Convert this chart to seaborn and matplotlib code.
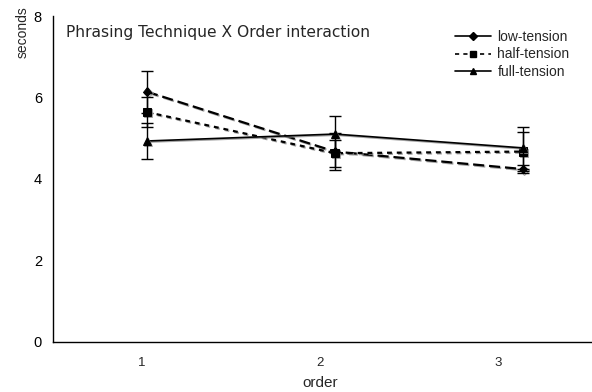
import numpy as np
import pandas as pd
import seaborn as sns
import matplotlib
matplotlib.use("Agg")
import matplotlib.pyplot as plt
import matplotlib.patheffects as pe
from matplotlib.lines import Line2D

# values
order = [1, 2, 3]
low_tension = [6.14, 4.67, 4.24]
half_tension = [5.64, 4.63, 4.67]
full_tension = [4.93, 5.10, 4.76]
low_err = [0.52, 0.45, 0.10]
half_err = [0.36, 0.33, 0.48]
full_err = [0.45, 0.44, 0.51]
series_names = ["low-tension", "half-tension", "full-tension"]
tick_labels = ["1", "2", "3"]

df = pd.DataFrame({
    "order": order * 3,
    "seconds": low_tension + half_tension + full_tension,
    "err": low_err + half_err + full_err,
    "tension": [n for n in series_names for _ in order],
})

sns.set_style("white")
plt.rcParams["font.family"] = ["Liberation Sans", "DejaVu Sans"]

fig = plt.figure(figsize=(5.92, 3.92), dpi=100)
ax = fig.add_axes([53 / 592, 50.3 / 392, 539 / 592, 325.7 / 392])

styles = {
    "low-tension": dict(marker="D", ms=4.5, ls=(0, (5, 2.2)), lw=1.6),
    "half-tension": dict(marker="s", ms=6, ls=(0, (2.2, 2.2)), lw=1.6),
    "full-tension": dict(marker="^", ms=6, ls="-", lw=1.2),
}
shadow = [pe.SimpleLineShadow(offset=(0.8, -0.8), shadow_color="0.55", alpha=0.8), pe.Normal()]

for name in series_names:
    sub = df[df.tension == name]
    st = styles[name]
    sns.lineplot(x=sub.order, y=sub.seconds, ax=ax, color="black", linewidth=st["lw"],
                 linestyle=st["ls"], marker=st["marker"], markersize=st["ms"],
                 markeredgecolor="black", legend=False, path_effects=shadow)
    ax.errorbar(sub.order, sub.seconds, yerr=sub.err, fmt="none", ecolor="black",
                elinewidth=1, capsize=4, capthick=1)

ax.set_xlim(0.5, 3.367)
ax.set_ylim(0, 8)
ax.set_yticks([0, 2, 4, 6, 8])
ax.set_xticks([0.5, 1.44, 2.39])
ax.set_xticklabels(["", "", ""])
ax.set_xticks([0.973, 1.92, 2.87], minor=True)
ax.set_xticklabels(tick_labels, minor=True)
ax.tick_params(axis="x", which="major", direction="out", length=4, width=1, color="black")
ax.tick_params(axis="x", which="minor", length=0, labelsize=9.5, pad=11)
ax.tick_params(axis="y", direction="out", length=5, width=1, color="black", labelsize=10.5, pad=3)
ax.tick_params(axis="both", colors="black")
for s in ["top", "right"]:
    ax.spines[s].set_visible(False)
for s in ["left", "bottom"]:
    ax.spines[s].set_color("black")
    ax.spines[s].set_linewidth(1)

ax.set_ylabel("")
ax.set_xlabel("")
fig.text(320 / 592, 1 - 383 / 392, "order", ha="center", va="center", fontsize=11)
fig.text(23 / 592, 1 - 32 / 392, "seconds", rotation=90, ha="center", va="center", fontsize=10)
fig.text(66 / 592, 1 - 33 / 392, "Phrasing Technique X Order interaction",
         fontsize=11.2, family=["DejaVu Sans"], va="center", ha="left")

handles = [
    Line2D([], [], color="black", lw=1.2, ls="-", marker="D", ms=4),
    Line2D([], [], color="black", lw=1.2, ls=(0, (2.5, 2.5)), marker="s", ms=5),
    Line2D([], [], color="black", lw=1.2, ls="-", marker="^", ms=5),
]
ax.legend(handles, series_names, loc="upper left", bbox_to_anchor=(0.746, 1 - 14 / 325.7),
          frameon=False, fontsize=10, handlelength=2.6, handletextpad=0.45,
          labelspacing=0.25, borderaxespad=0, borderpad=0)

fig.savefig("out.png", dpi=100)
